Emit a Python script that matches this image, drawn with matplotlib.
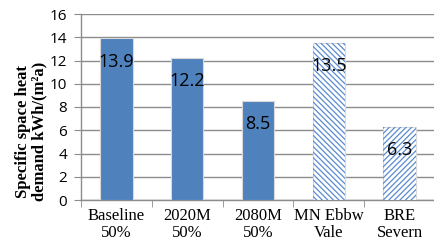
import matplotlib
matplotlib.use("Agg")
import matplotlib.pyplot as plt
import numpy as np

categories = ["Baseline\n50%", "2020M\n50%", "2080M\n50%", "MN Ebbw\nVale", "BRE\nSevern"]
values = [13.9, 12.2, 8.5, 13.5, 6.3]
hatches = [None, None, None, "\\\\\\\\\\\\", "//////"]
yticks = [0, 2, 4, 6, 8, 10, 12, 14, 16]

blue = "#4F81BD"
hatch_blue = "#5B8BD0"
grid = "#8C8C8C"

plt.rcParams["hatch.linewidth"] = 0.9

fig = plt.figure(figsize=(4.35, 2.52), dpi=100)
ax = fig.add_axes([81/435, 1 - 200/252, 1 - 81/435, (200 - 14)/252])

x = np.arange(len(categories))
for xi, v, h in zip(x, values, hatches):
    if h is None:
        ax.bar(xi, v, width=0.46, color=blue, edgecolor="#D9D9D9", linewidth=0.8, zorder=3)
    else:
        ax.bar(xi, v, width=0.46, color="white", edgecolor="#D9D9D9", linewidth=0.8, zorder=3)
        ax.bar(xi, v, width=0.46, color="none", edgecolor=hatch_blue, linewidth=0, hatch=h, zorder=4)
    ax.text(xi, v - 2.0, f"{v:.1f}", ha="center", va="center", fontsize=13,
            family="Open Sans", color="black", zorder=5)

ax.set_xlim(-0.5, len(categories) - 0.5)
ax.set_ylim(0, 16)
ax.set_yticks(yticks)
ax.set_yticklabels([str(t) for t in yticks], family="Open Sans", fontsize=11)
ax.set_xticks(x)
ax.set_xticklabels(categories, family="Liberation Serif", fontsize=12, linespacing=1.05)
ax.set_xticks(np.arange(-0.5, len(categories)), minor=True)
ax.tick_params(axis="x", which="major", length=0, pad=6)
ax.tick_params(axis="x", which="minor", length=5, color=grid, direction="out")
ax.tick_params(axis="y", length=5, color=grid, direction="out", pad=5)

ax.grid(axis="y", color=grid, linewidth=1.0, zorder=0)
for s in ["top", "right"]:
    ax.spines[s].set_visible(False)
for s in ["left", "bottom"]:
    ax.spines[s].set_color(grid)
    ax.spines[s].set_linewidth(1.0)

ax.set_ylabel("Specific space heat\ndemand kWh/(m²a)", family="Liberation Serif",
              fontweight="bold", fontsize=12, linespacing=1.0)
ax.yaxis.set_label_coords(-0.095, 0.37)

fig.savefig("out.png", dpi=100)
